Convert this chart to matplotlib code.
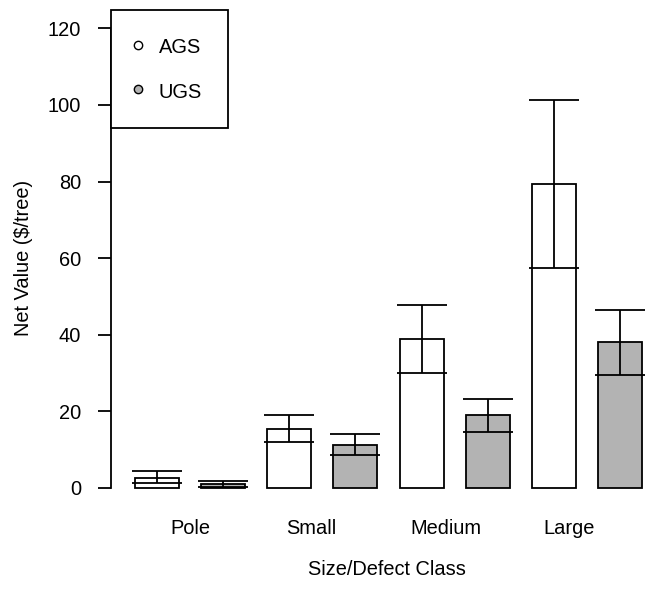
import numpy as np
import matplotlib
matplotlib.use("Agg")
import matplotlib.pyplot as plt
from matplotlib.lines import Line2D

plt.rcParams['font.family'] = ['Liberation Sans', 'DejaVu Sans']

# values
categories = ["Pole", "Small", "Medium", "Large"]
ags_mean = [2.6, 15.3, 38.8, 79.4]
ags_low = [1.3, 11.9, 29.9, 57.4]
ags_high = [4.4, 18.9, 47.7, 101.4]
ugs_mean = [1.0, 11.1, 18.9, 38.0]
ugs_low = [0.2, 8.6, 14.7, 29.6]
ugs_high = [1.9, 14.0, 23.1, 46.4]
yticks = [0, 20, 40, 60, 80, 100, 120]

fs = 14.4
lw = 1.3

fig = plt.figure(figsize=(6.6, 5.9), dpi=100)
ax = fig.add_axes([0.168, 0.142, 0.836, 0.841])

ags_x = np.arange(len(categories)) * 3.0
ugs_x = ags_x + 1.5

ax.bar(ags_x, ags_mean, width=1.0, color="white", edgecolor="black", linewidth=lw, zorder=2)
ax.bar(ugs_x, ugs_mean, width=1.0, color="#b3b3b3", edgecolor="black", linewidth=lw, zorder=2)

for xs, m, lo, hi in [(ags_x, ags_mean, ags_low, ags_high), (ugs_x, ugs_mean, ugs_low, ugs_high)]:
    m = np.array(m)
    err = [m - np.array(lo), np.array(hi) - m]
    ax.errorbar(xs, m, yerr=err, fmt="none", ecolor="black", elinewidth=lw,
                capsize=18, capthick=lw, zorder=3)

ax.set_xlim(-1.04, 11.46)
ax.set_ylim(-4.8, 124.8)

for s in ["top", "right", "bottom"]:
    ax.spines[s].set_visible(False)
ax.spines["left"].set_bounds(0, 120)
ax.spines["left"].set_linewidth(lw)

ax.set_yticks(yticks)
ax.tick_params(axis="y", length=9.4, width=lw, pad=12, labelsize=fs)

label_pos = [0.75, 3.5, 6.55, 9.35]
ax.set_xticks(label_pos)
ax.set_xticklabels(categories)
ax.tick_params(axis="x", length=0, pad=9, labelsize=fs)

ax.set_ylabel("Net Value ($/tree)", fontsize=fs)
ax.yaxis.set_label_coords(-0.141, 0.5)
ax.set_xlabel("Size/Defect Class", fontsize=fs)
ax.xaxis.set_label_coords(0.5, -0.109)

handles = [
    Line2D([], [], linestyle="none", marker="o", markersize=6, markerfacecolor="white",
           markeredgecolor="black", markeredgewidth=1.0),
    Line2D([], [], linestyle="none", marker="o", markersize=6, markerfacecolor="#b3b3b3",
           markeredgecolor="black", markeredgewidth=1.0),
]
leg = ax.legend(handles, ["AGS", "UGS"], loc="upper left", borderaxespad=0,
                fontsize=fs, handlelength=0.1, handleheight=1.25, handletextpad=1.0,
                borderpad=1.3, labelspacing=1.15, fancybox=False, framealpha=1,
                edgecolor="black")
leg.get_frame().set_linewidth(lw)
leg.set_zorder(5)

fig.savefig("out.png", dpi=100)
